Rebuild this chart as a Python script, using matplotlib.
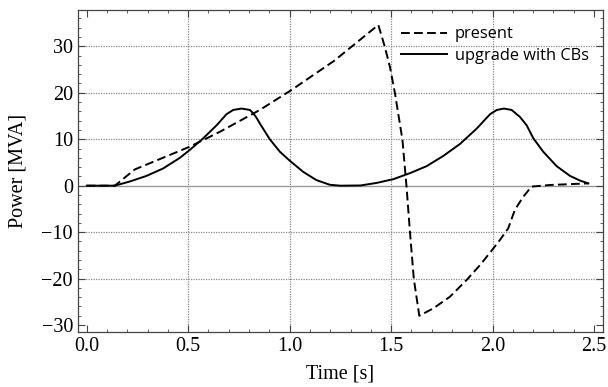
import matplotlib
matplotlib.use('Agg')
import matplotlib.pyplot as plt
from matplotlib.ticker import MultipleLocator, FuncFormatter

# breaker upgrade case: two power pulses
t_cb = [0.0, 0.10, 0.138, 0.212, 0.294, 0.376, 0.459, 0.508, 0.574, 0.640, 0.689, 0.722, 0.763,
        0.804, 0.82, 0.837, 0.853, 0.902, 0.952, 1.000, 1.066, 1.132, 1.198, 1.25, 1.35,
        1.429, 1.511, 1.593, 1.675, 1.757, 1.840, 1.922, 1.988, 2.021, 2.056, 2.094, 2.135,
        2.168, 2.201, 2.250, 2.316, 2.382, 2.431, 2.472]
p_cb = [0.0, 0.0, 0.0, 0.9, 2.1, 3.7, 6.0, 7.7, 10.2, 13.0, 15.4, 16.3, 16.6,
        16.3, 15.6, 14.6, 13.4, 10.0, 7.3, 5.4, 3.0, 1.2, 0.2, 0.0, 0.05,
        0.6, 1.4, 2.7, 4.2, 6.4, 9.0, 12.3, 15.4, 16.3, 16.6, 16.3, 14.8,
        13.0, 10.2, 7.3, 4.2, 2.1, 1.1, 0.5]

# present configuration
t_present = [0.0, 0.138, 0.237, 0.508, 0.656, 0.853, 1.009, 1.22, 1.437, 1.469, 1.494, 1.519,
             1.547, 1.556, 1.576, 1.593, 1.612, 1.639, 1.708, 1.790, 1.872, 1.938, 1.995,
             2.036, 2.077, 2.110, 2.151, 2.192, 2.283, 2.472]
p_present = [0.0, 0.0, 3.5, 8.4, 11.6, 16.3, 20.6, 26.9, 34.6, 29.9, 25.6, 19.9,
             12.3, 9.8, -0.2, -10.0, -20.1, -28.0, -26.4, -23.9, -20.3, -17.1, -14.0,
             -11.7, -9.2, -5.2, -2.4, -0.2, 0.15, 0.5]

plt.rcParams['font.family'] = 'Liberation Serif'

fig = plt.figure(figsize=(6.08, 3.87), dpi=100)
ax = fig.add_axes([0.128, 0.142, 0.864, 0.832])

ax.plot(t_present, p_present, color='black', lw=1.4, ls=(0, (4.5, 2.2)), label='present',
        dash_joinstyle='round')
ax.plot(t_cb, p_cb, color='black', lw=1.4, label='upgrade with CBs', solid_joinstyle='round')

ax.set_xlim(-0.044, 2.545)
ax.set_ylim(-31.5, 37.8)

ax.xaxis.set_major_locator(MultipleLocator(0.5))
ax.xaxis.set_minor_locator(MultipleLocator(0.1))
ax.yaxis.set_major_locator(MultipleLocator(10))
ax.yaxis.set_minor_locator(MultipleLocator(2))
ax.xaxis.set_major_formatter(FuncFormatter(lambda v, p: f'{v:.1f}'))
ax.yaxis.set_major_formatter(FuncFormatter(lambda v, p: f'\u2212{-v:.0f}' if v < 0 else f'{v:.0f}'))

ax.tick_params(which='both', direction='in', top=True, right=True, labelsize=14.5, color='#444444')
ax.tick_params(which='major', length=5, width=0.8)
ax.tick_params(which='minor', length=2.5, width=0.6)
for s in ax.spines.values():
    s.set_color('#444444')
    s.set_linewidth(0.9)

# dotted grid, solid line at zero
for v in [0.5, 1.0, 1.5, 2.0]:
    ax.axvline(v, color='#888888', lw=0.9, ls=(0, (1, 1)), zorder=0)
for v in [-20, -10, 10, 20, 30]:
    ax.axhline(v, color='#888888', lw=0.9, ls=(0, (1, 1)), zorder=0)
ax.axhline(0, color='#999999', lw=1.0, zorder=0)

ax.set_xlabel('Time [s]', fontsize=14.5, labelpad=6)
ax.set_ylabel('Power [MVA]', fontsize=14.5, labelpad=10)

leg = ax.legend(loc='upper right', frameon=False, prop={'family': 'Open Sans', 'size': 11.8},
                handlelength=2.8, handletextpad=0.45, labelspacing=0.35,
                borderaxespad=0.0, bbox_to_anchor=(0.985, 0.97))

fig.savefig('out.png', dpi=100)
